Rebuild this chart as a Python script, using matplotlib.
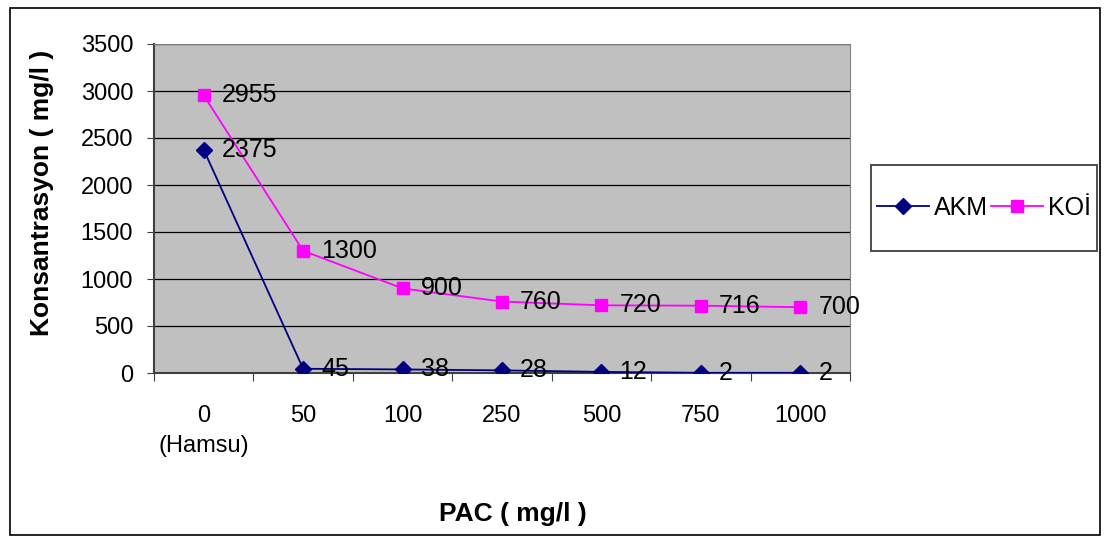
import matplotlib
matplotlib.use("Agg")
import matplotlib.pyplot as plt
from matplotlib.patches import Rectangle
import numpy as np

plt.rcParams['font.family'] = ['Liberation Sans', 'DejaVu Sans']

categories = ["0\n(Hamsu)", "50", "100", "250", "500", "750", "1000"]
akm = [2375, 45, 38, 28, 12, 2, 2]
koi = [2955, 1300, 900, 760, 720, 716, 700]
yticks = [0, 500, 1000, 1500, 2000, 2500, 3000, 3500]

W, H = 1108, 541
fig = plt.figure(figsize=(W / 100, H / 100), dpi=100)
ax = fig.add_axes([154 / W, 1 - 373 / H, (850 - 154) / W, (373 - 44) / H])
ax.set_facecolor('#C0C0C0')

x = np.arange(len(categories))
ax.plot(x, akm, color='#000080', marker='D', markersize=8, linewidth=1.3, label='AKM', zorder=3)
ax.plot(x, koi, color='#FF00FF', marker='s', markersize=8, linewidth=1.3, label='KOİ', zorder=3)

for xi, v in zip(x, akm):
    ax.annotate(str(v), (xi, v), xytext=(13, 0), textcoords='offset points',
                va='center', ha='left', fontsize=18, zorder=4)
for xi, v in zip(x, koi):
    ax.annotate(str(v), (xi, v), xytext=(13, 0), textcoords='offset points',
                va='center', ha='left', fontsize=18, zorder=4)

ax.set_xlim(-0.5, len(categories) - 0.5)
ax.set_ylim(0, 3500)
ax.set_yticks(yticks)
ax.yaxis.grid(True, color='black', linewidth=0.9)
ax.set_axisbelow(True)
ax.tick_params(axis='y', labelsize=17, length=5, color='#404040', pad=10)

ax.set_xticks(np.arange(-0.5, len(categories), 1.0))
ax.set_xticklabels([])
ax.set_xticks(x, minor=True)
ax.set_xticklabels(categories, minor=True, fontsize=17, linespacing=1.45, va='top')
ax.tick_params(axis='x', which='major', length=6, color='#404040')
ax.tick_params(axis='x', which='minor', length=0, pad=23)

for s in ['top', 'right']:
    ax.spines[s].set_color('#808080')
for s in ['left', 'bottom']:
    ax.spines[s].set_color('#404040')
    ax.spines[s].set_linewidth(1.5)

ax.set_ylabel('Konsantrasyon ( mg/l )', fontsize=19, fontweight='bold', va='center')
ax.yaxis.set_label_coords((42 - 154) / 696, 1 - (193 - 44) / 329)
fig.text(513 / W, 1 - 514 / H, 'PAC ( mg/l )', fontsize=19, fontweight='bold', ha='center', va='center')

leg = fig.legend(loc='center', bbox_to_anchor=((871 + 1097) / 2 / W, 1 - 208 / H), ncol=2,
                 fontsize=18, frameon=False, borderpad=0.2,
                 handlelength=2.05, columnspacing=0.15, handletextpad=0.2,
                 borderaxespad=0)

fig.patches.append(Rectangle((871 / W, 1 - 251 / H), (1097 - 871) / W, (251 - 165) / H,
                             transform=fig.transFigure, fill=False, edgecolor='#404040', linewidth=1.3))
fig.patches.append(Rectangle((10 / W, 1 - 535 / H), 1090 / W, 527 / H, transform=fig.transFigure,
                             fill=False, edgecolor='black', linewidth=1.2))

fig.savefig('out.png', dpi=100)
